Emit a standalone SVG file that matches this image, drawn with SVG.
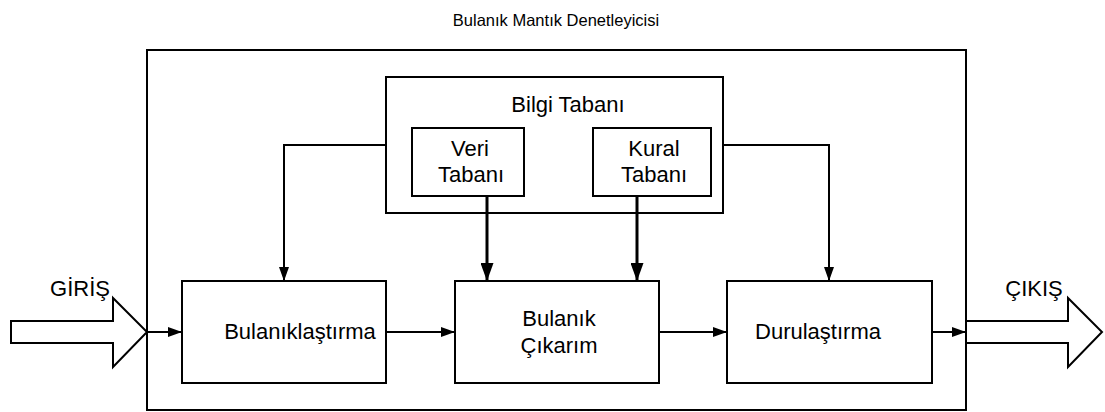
<svg xmlns="http://www.w3.org/2000/svg" width="1105" height="412" viewBox="0 0 1105 412">
<style>
.box{fill:none;stroke:#000;stroke-width:2}
.wbox{fill:#fff;stroke:#000;stroke-width:2}
.t{font-family:"Liberation Sans",Arial,sans-serif;font-size:22px;fill:#000;text-anchor:middle}
.title{font-family:"Liberation Sans",Arial,sans-serif;font-size:16.5px;fill:#000;text-anchor:middle}
.c{fill:none;stroke:#000;stroke-width:2}
.ct{fill:none;stroke:#000;stroke-width:3}
</style>
<defs>
<marker id="ah" markerUnits="userSpaceOnUse" markerWidth="14" markerHeight="10" refX="14" refY="5" orient="auto">
<path d="M0,0 L14,5 L0,10 Z" fill="#000"/>
</marker>
<marker id="ahb" markerUnits="userSpaceOnUse" markerWidth="18" markerHeight="13" refX="18" refY="6.5" orient="auto">
<path d="M0,0 L18,6.5 L0,13 Z" fill="#000"/>
</marker>
</defs>
<text class="title" x="556" y="26">Bulanık Mantık Denetleyicisi</text>
<g id="controller">
<rect class="box" x="147" y="50" width="819" height="360"/>
</g>
<g id="bilgi">
<rect class="box" x="386" y="77" width="337" height="136"/>
<text class="t" x="568" y="112">Bilgi Tabanı</text>
</g>
<g id="veri">
<rect class="box" x="412" y="128" width="112" height="68"/>
<text class="t" x="470" y="156">Veri</text>
<text class="t" x="471" y="182">Tabanı</text>
</g>
<g id="kural">
<rect class="box" x="593" y="128" width="118" height="68"/>
<text class="t" x="654" y="156">Kural</text>
<text class="t" x="654" y="182">Tabanı</text>
</g>
<g id="bulaniklastirma">
<rect class="box" x="182" y="281" width="204" height="102"/>
<text class="t" x="300" y="339">Bulanıklaştırma</text>
</g>
<g id="cikarim">
<rect class="box" x="455" y="281" width="204" height="102"/>
<text class="t" x="559" y="326">Bulanık</text>
<text class="t" x="559" y="353">Çıkarım</text>
</g>
<g id="durulastirma">
<rect class="box" x="727" y="281" width="205" height="102"/>
<text class="t" x="818" y="339">Durulaştırma</text>
</g>
<g id="giris">
<polygon class="wbox" points="11,321 113,321 113,298 147,332 113,367 113,343 11,343"/>
<text class="t" x="80" y="296">GİRİŞ</text>
</g>
<g id="cikis">
<polygon class="wbox" points="966,321 1068,321 1068,298 1102,332 1068,367 1068,343 966,343"/>
<text class="t" x="1034" y="296">ÇIKIŞ</text>
</g>
<g id="connectors">
<line class="c" x1="147" y1="332" x2="182" y2="332" marker-end="url(#ah)"/>
<line class="c" x1="386" y1="332" x2="455" y2="332" marker-end="url(#ah)"/>
<line class="c" x1="659" y1="332" x2="727" y2="332" marker-end="url(#ah)"/>
<line class="c" x1="932" y1="332" x2="966" y2="332" marker-end="url(#ah)"/>
<polyline class="c" points="386,145 284,145 284,281" marker-end="url(#ah)"/>
<polyline class="c" points="723,145 829,145 829,281" marker-end="url(#ah)"/>
<line class="ct" x1="487" y1="196" x2="487" y2="281" marker-end="url(#ahb)"/>
<line class="ct" x1="637" y1="196" x2="637" y2="281" marker-end="url(#ahb)"/>
</g>
</svg>
